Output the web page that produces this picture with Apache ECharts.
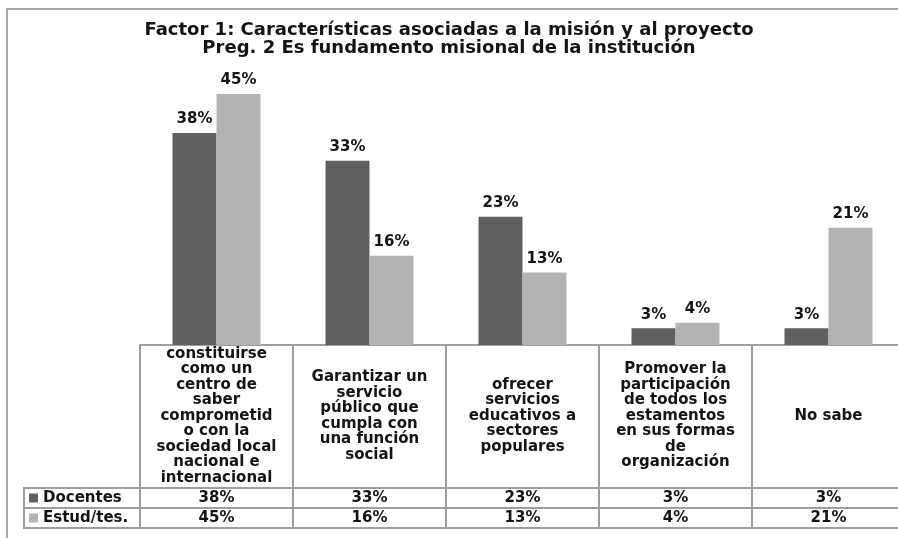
<!DOCTYPE html>
<html>
<head>
<meta charset="utf-8">
<script src="https://cdn.jsdelivr.net/npm/echarts@6/dist/echarts.min.js"></script>
<style>
  html, body { margin: 0; padding: 0; background: #fff; }
  #chart-container { width: 898px; height: 538px; }
</style>
</head>
<body>
<div id="chart-container"></div>
<script>
'use strict';

const categories = [
    'constituirse\ncomo un\ncentro de\nsaber\ncomprometid\no con la\nsociedad local\nnacional e\ninternacional',
    'Garantizar un\nservicio\npúblico que\ncumpla con\nuna función\nsocial',
    'ofrecer\nservicios\neducativos a\nsectores\npopulares',
    'Promover la\nparticipación\nde todos los\nestamentos\nen sus formas\nde\norganización',
    'No sabe'
];
const docentes = [38, 33, 23, 3, 3];
const estudiantes = [45, 16, 13, 4, 21];
const seriesNames = ['Docentes', 'Estud/tes.'];

const titleText = 'Factor 1: Características asociadas a la misión y al proyecto\nPreg. 2 Es fundamento misional de la institución';

const font = 'DejaVu Sans, Verdana, sans-serif';
const lineColor = '#9e9e9e';
const textColor = '#141414';

const myChart = echarts.init(document.getElementById('chart-container'), null, { renderer: 'canvas' });

const pct = v => v + '%';

const option = {
    backgroundColor: '#fff',
    animation: false,
    title: {
        text: titleText,
        left: 'center',
        top: 16,
        textStyle: {
            fontFamily: font,
            fontSize: 18,
            fontWeight: 'bold',
            lineHeight: 18,
            color: textColor
        }
    },
    legend: {
        orient: 'vertical',
        left: 29,
        top: 488,
        padding: 0,
        itemGap: 0,
        itemWidth: 9,
        itemHeight: 9,
        icon: 'rect',
        data: seriesNames,
        textStyle: {
            fontFamily: font,
            fontSize: 15,
            fontWeight: 'bold',
            lineHeight: 20,
            color: textColor
        }
    },
    grid: {
        left: 140,
        right: -7,
        top: 66,
        bottom: 193,
        outerBoundsMode: 'none'
    },
    xAxis: [
        {
            type: 'category',
            data: categories,
            position: 'bottom',
            axisLine: { show: true, lineStyle: { color: lineColor, width: 2 } },
            axisTick: { show: true, interval: 0, length: 183, lineStyle: { color: lineColor, width: 2 } },
            axisLabel: {
                interval: 0,
                margin: 71,
                verticalAlign: 'middle',
                fontFamily: font,
                fontSize: 15,
                fontWeight: 'bold',
                lineHeight: 15.5,
                color: textColor
            }
        },
        {
            type: 'category',
            data: docentes.map(pct),
            position: 'bottom',
            offset: 143,
            axisLine: { show: true, lineStyle: { color: lineColor, width: 2 } },
            axisTick: { show: false },
            axisLabel: {
                interval: 0, margin: 10, verticalAlign: 'middle',
                fontFamily: font, fontSize: 15, fontWeight: 'bold', color: textColor
            }
        },
        {
            type: 'category',
            data: estudiantes.map(pct),
            position: 'bottom',
            offset: 163,
            axisLine: { show: true, lineStyle: { color: lineColor, width: 2 } },
            axisTick: { show: false },
            axisLabel: {
                interval: 0, margin: 10, verticalAlign: 'middle',
                fontFamily: font, fontSize: 15, fontWeight: 'bold', color: textColor
            }
        },
        {
            type: 'category',
            data: categories,
            position: 'bottom',
            offset: 183,
            axisLine: { show: true, lineStyle: { color: lineColor, width: 2 } },
            axisTick: { show: false },
            axisLabel: { show: false }
        }
    ],
    yAxis: {
        type: 'value',
        min: 0,
        max: 50,
        show: false,
        splitLine: { show: false }
    },
    series: [
        {
            name: seriesNames[0],
            type: 'bar',
            data: docentes,
            barWidth: 44,
            barGap: '0%',
            itemStyle: { color: '#606060' },
            label: {
                show: true, position: 'top', distance: 6, formatter: '{c}%',
                fontFamily: font, fontSize: 15, fontWeight: 'bold', color: textColor
            }
        },
        {
            name: seriesNames[1],
            type: 'bar',
            data: estudiantes,
            barWidth: 44,
            barGap: '0%',
            itemStyle: { color: '#b3b3b3' },
            label: {
                show: true, position: 'top', distance: 6, formatter: '{c}%',
                fontFamily: font, fontSize: 15, fontWeight: 'bold', color: textColor
            }
        }
    ],
    graphic: [
        // chart area frame
        { type: 'rect', shape: { x: 7, y: 9, width: 1000, height: 1000 },
          style: { fill: null, stroke: '#a8a8a8', lineWidth: 2 }, silent: true },
        // legend cells of the data table
        { type: 'line', shape: { x1: 24, y1: 488, x2: 140, y2: 488 }, style: { stroke: lineColor, lineWidth: 2 } },
        { type: 'line', shape: { x1: 24, y1: 508, x2: 140, y2: 508 }, style: { stroke: lineColor, lineWidth: 2 } },
        { type: 'line', shape: { x1: 24, y1: 528, x2: 140, y2: 528 }, style: { stroke: lineColor, lineWidth: 2 } },
        { type: 'line', shape: { x1: 24, y1: 487, x2: 24, y2: 529 }, style: { stroke: lineColor, lineWidth: 2 } }
    ]
};

myChart.setOption(option);
window.addEventListener('resize', myChart.resize);
</script>
</body>
</html>
